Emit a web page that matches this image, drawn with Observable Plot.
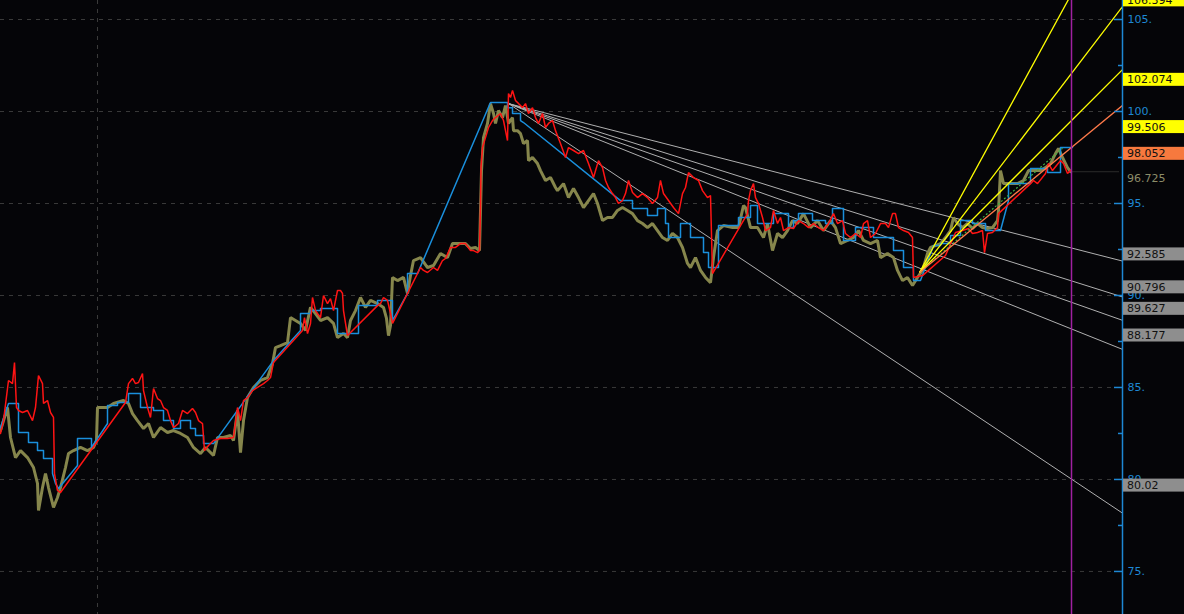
<!DOCTYPE html>
<html><head><meta charset="utf-8">
<script src="https://cdn.jsdelivr.net/npm/d3@7"></script>
<script src="https://cdn.jsdelivr.net/npm/@observablehq/plot@0.6"></script>
<style>html,body{margin:0;padding:0;background:#050508;overflow:hidden}#chart svg{display:block}</style>
</head><body><div id="chart"></div>
<script>
// price series: [time index, price]
const olive = [[0,82.66],[7,83.91],[10,82.28],[15,81.19],[20,81.57],[27,81.19],[33,80.65],[37,79.78],[38,78.31],[42,79.56],[45,80.32],[48,79.56],[53,78.48],[57,79.02],[60,79.56],[65,80.65],[68,81.41],[73,81.57],[80,81.74],[87,81.57],[93,81.74],[96,82.12],[97,83.91],[100,83.91],[107,83.91],[113,84.13],[123,84.29],[128,84.13],[132,83.58],[137,83.20],[143,82.77],[148,83.04],[153,82.28],[160,82.82],[167,82.55],[173,82.66],[180,82.50],[187,82.28],[193,81.74],[200,81.41],[205,81.74],[213,81.30],[217,82.28],[223,82.28],[230,82.39],[233,82.12],[237,83.75],[240,81.46],[243,83.20],[247,84.45],[253,85.00],[260,85.38],[267,85.54],[272,86.30],[275,87.17],[280,87.28],[287,87.44],[290,88.80],[295,88.64],[300,88.48],[305,88.10],[310,89.35],[315,89.02],[320,88.64],[327,88.80],[333,88.48],[337,87.71],[343,87.93],[347,87.71],[350,88.64],[355,89.18],[360,89.89],[365,89.35],[370,89.73],[377,89.56],[383,89.35],[386,88.75],[388,87.82],[390,88.37],[392,90.98],[397,90.81],[403,90.98],[407,90.11],[410,91.08],[413,91.90],[420,92.06],[427,91.52],[433,91.63],[440,92.28],[447,92.06],[452,92.82],[458,92.82],[465,92.82],[470,92.55],[475,92.61],[479,92.44],[481,96.79],[483,98.58],[487,99.35],[490,100.43],[493,99.89],[495,99.35],[498,100.05],[502,99.67],[505,100.32],[508,99.35],[512,99.67],[513,98.96],[517,98.96],[520,98.80],[523,98.26],[527,98.42],[528,97.33],[532,97.50],[537,97.17],[540,96.79],[545,96.25],[550,96.41],[555,95.87],[557,95.70],[563,96.08],[568,95.32],[573,95.81],[578,95.32],[583,94.78],[588,95.16],[593,95.54],[597,95.00],[602,94.07],[607,94.24],[612,94.24],[617,94.62],[622,94.78],[627,94.62],[632,94.45],[637,94.07],[642,93.91],[647,93.69],[652,93.91],[657,93.53],[662,93.15],[667,92.99],[672,93.37],[677,93.15],[682,92.61],[687,91.74],[690,91.52],[695,92.06],[700,91.36],[705,90.98],[710,90.70],[713,92.06],[717,93.53],[723,93.80],[732,93.69],[738,93.69],[743,94.89],[745,94.78],[750,93.69],[757,93.69],[763,93.15],[767,93.91],[772,92.44],[777,93.37],[782,93.15],[787,93.53],[792,94.07],[797,93.91],[803,94.45],[810,93.69],[817,94.07],[823,93.53],[830,94.07],[835,93.69],[840,92.82],[847,92.99],[853,93.15],[858,93.53],[863,92.99],[870,92.82],[877,92.99],[880,92.06],[887,92.28],[893,92.06],[897,91.36],[902,90.81],[907,90.98],[912,90.54],[917,90.98],[922,91.36],[927,92.28],[930,92.61],[935,92.71],[940,92.82],[945,93.15],[950,93.53],[953,94.24],[957,93.91],[962,93.69],[967,93.91],[972,93.64],[977,93.91],[982,93.69],[987,93.64],[992,93.69],[997,94.07],[998,94.62],[1000,96.79],[1003,96.08],[1010,96.08],[1017,96.08],[1023,96.25],[1028,96.79],[1033,96.79],[1040,96.79],[1045,96.95],[1050,97.17],[1055,97.71],[1058,97.99],[1062,97.50],[1067,96.95],[1070,96.73]];

const red = [[0,82.50],[3,83.20],[8,85.38],[12,85.21],[14,86.36],[16,83.91],[18,83.75],[22,83.64],[27,83.75],[32,83.20],[35,83.91],[38,85.65],[42,85.21],[43,84.13],[47,84.29],[50,83.64],[53,83.37],[54,80.32],[57,79.40],[60,79.29],[125,84.18],[128,85.21],[132,85.49],[135,85.21],[138,85.27],[142,85.76],[143,84.83],[147,83.91],[150,83.37],[153,84.94],[157,84.40],[160,84.29],[163,83.91],[167,83.75],[170,83.20],[173,82.82],[178,83.04],[182,83.75],[187,83.58],[192,83.86],[195,83.64],[198,83.20],[202,83.04],[204,81.57],[208,81.85],[213,82.12],[220,82.23],[227,82.23],[233,82.28],[237,83.91],[240,83.20],[243,84.29],[247,84.45],[252,84.83],[257,85.00],[263,85.21],[267,85.38],[270,85.54],[273,86.36],[302,88.10],[304,88.80],[307,87.93],[310,88.48],[312,89.89],[315,89.18],[317,89.02],[320,88.80],[323,90.00],[327,89.56],[330,89.83],[333,89.18],[337,90.27],[340,90.27],[342,90.11],[343,89.18],[347,87.82],[377,89.45],[380,89.56],[383,89.89],[387,89.73],[390,89.02],[392,88.48],[420,91.52],[423,91.36],[427,91.25],[433,91.52],[437,91.36],[442,91.90],[445,92.01],[450,92.61],[455,92.61],[460,92.82],[465,92.82],[470,92.44],[473,92.44],[477,92.33],[479,92.44],[480,94.78],[480.5,96.95],[482,98.04],[485,98.58],[488,99.13],[492,99.51],[495,99.67],[500,99.89],[503,99.51],[505,98.96],[507,98.42],[508,100.98],[510,100.76],[512,101.14],[515,100.60],[518,100.43],[522,100.21],[525,100.43],[528,99.89],[532,100.21],[535,99.67],[538,99.35],[542,99.89],[545,99.13],[548,99.35],[552,99.51],[555,98.96],[560,98.26],[565,97.50],[568,98.04],[573,97.88],[578,97.71],[583,97.88],[588,97.17],[593,96.41],[598,97.33],[602,96.95],[605,96.25],[608,95.87],[612,95.54],[615,95.32],[618,95.00],[622,95.16],[625,95.54],[628,96.25],[632,95.60],[637,95.32],[642,95.54],[647,95.32],[652,95.00],[657,95.32],[660,96.25],[663,95.54],[668,95.16],[673,94.78],[678,94.45],[682,95.54],[685,95.87],[688,96.68],[693,96.41],[698,96.25],[702,95.70],[707,95.32],[710,95.43],[712,91.19],[747,94.45],[748,95.16],[750,95.70],[753,96.08],[755,95.32],[758,95.00],[762,94.24],[765,93.53],[770,93.69],[773,94.62],[777,93.91],[780,94.24],[783,93.53],[788,93.69],[793,93.64],[798,94.07],[803,93.91],[808,93.69],[813,93.91],[818,93.69],[823,93.53],[828,93.91],[833,94.45],[837,93.91],[842,94.07],[845,93.37],[850,93.15],[855,93.37],[860,93.15],[863,93.91],[867,94.07],[870,93.15],[875,93.37],[880,93.91],[885,93.91],[888,93.69],[892,94.45],[895,94.45],[898,93.69],[903,93.53],[908,93.42],[912,93.15],[913,90.98],[922,91.08],[945,92.17],[955,93.42],[962,93.53],[968,93.64],[972,93.37],[977,93.42],[982,93.53],[984,92.33],[987,93.37],[992,93.42],[997,93.69],[998,94.45],[1030,96.08],[1033,96.25],[1037,96.08],[1045,96.63],[1048,97.17],[1052,96.79],[1056,97.06],[1060,97.33],[1063,97.17],[1067,96.63],[1070,96.79]];

const blue = [[0,82.82],[8,84.13],[18,84.13],[18,82.55],[28,82.55],[28,82.01],[37,82.01],[37,81.57],[43,81.57],[43,81.14],[52,81.14],[52,80.32],[55,79.78],[58,79.51],[77,80.76],[77,82.23],[91,82.23],[91,81.74],[107,83.04],[107,84.02],[117,84.02],[117,84.18],[128,84.18],[128,84.67],[140,84.67],[140,83.91],[153,83.91],[153,83.75],[163,83.75],[163,83.20],[173,83.20],[173,82.77],[180,82.77],[180,83.20],[190,83.20],[190,82.77],[195,82.77],[195,82.39],[203,82.39],[203,81.95],[213,81.95],[273,86.46],[300,88.10],[300,89.02],[310,89.02],[310,89.18],[320,89.18],[320,89.29],[337,89.29],[337,87.93],[358,87.93],[358,89.45],[377,89.45],[377,89.73],[392,89.73],[392,88.64],[407,90.11],[407,91.19],[417,91.19],[490,100.49],[507,100.49],[507,100.21],[512,100.21],[512,99.89],[520,99.89],[520,99.51],[523,99.40],[620,95.16],[632,95.16],[632,94.73],[647,94.73],[647,94.35],[657,94.35],[657,94.73],[665,94.73],[665,93.91],[668,93.91],[668,93.15],[680,93.15],[680,93.91],[690,93.91],[690,93.15],[703,93.15],[703,92.33],[708,92.33],[708,91.52],[718,91.52],[718,93.80],[738,93.80],[738,94.24],[750,94.24],[750,94.89],[757,94.89],[757,93.91],[773,93.91],[773,94.45],[788,94.45],[788,93.69],[793,93.69],[793,94.07],[798,94.07],[798,94.45],[812,94.45],[812,94.07],[825,94.07],[825,93.91],[832,93.91],[832,94.73],[843,94.73],[843,92.99],[855,92.99],[855,93.69],[873,93.69],[873,93.15],[893,93.15],[893,92.44],[903,92.44],[903,91.52],[913,91.52],[913,90.81],[920,90.81],[930,92.28],[933,92.71],[940,92.71],[940,92.82],[950,92.82],[950,93.26],[960,93.26],[960,94.07],[972,94.07],[972,93.91],[985,93.91],[985,93.53],[1000,93.53],[1008,95.16],[1008,96.08],[1030,96.08],[1030,96.90],[1047,96.90],[1047,96.68],[1060,96.68],[1060,98.04],[1072,98.04]];

const majorTicks = [75, 80, 85, 90, 95, 100, 105];
const minorTicks = [77.5, 82.5, 87.5, 92.5, 97.5, 102.5];
const yDomain = [72.66, 106.033];
const tDomain = [0, 1122];
const gridT = [97];
const cursorT = 1071;

const grayFanOrigin = [508, 100.43];
const grayFanEnds = [91.87, 89.92, 88.65, 87.07, 78.17];
const yellowFanOrigin = [919, 91.25];
const yellowFanEnds = [111.47, 105.70, 102.28];
const orangeEnd = 100.33;
const greenEnd = [1062, 98.0];
const lastClose = 96.725;

const labelValues = [106.394, 102.074, 99.506, 98.052, 96.725, 92.585, 90.796, 89.627, 88.177, 80.02];
const labelTexts = ["106.394", "102.074", "99.506", "98.052", "96.725", "92.585", "90.796", "89.627", "88.177", "80.02"];
const labelKinds = ["yellow", "yellow", "yellow", "orange", "plain", "gray", "gray", "gray", "gray", "gray"];

const kindFill = {yellow: "#ffff00", orange: "#f6793e", gray: "#8e8e8e", plain: "none"};
const kindText = {yellow: "#111", orange: "#111", gray: "#111", plain: "#8c8c68"};

const rows = a => a.map(([t, v]) => ({t, v}));
const fanRows = (o, ends, tEnd) => ends.map(e => ({t1: o[0], v1: o[1], t2: tEnd, v2: e}));
const tEnd = tDomain[1];

const W = 1184, H = 614, MR = 62;
const AX = "#1e88d4";

const chart = Plot.plot({
  width: W, height: H,
  marginLeft: 0, marginRight: MR, marginTop: 0, marginBottom: 0,
  style: {background: "#050508", fontFamily: "DejaVu Sans", fontSize: "11px"},
  x: {domain: tDomain, axis: null},
  y: {domain: yDomain, axis: null},
  marks: [
    Plot.ruleY(majorTicks, {stroke: "#3a3a3a", strokeDasharray: "4,5"}),
    Plot.ruleX(gridT, {stroke: "#3a3a3a", strokeDasharray: "4,5"}),
    Plot.link(fanRows(grayFanOrigin, grayFanEnds, tEnd), {x1: "t1", y1: "v1", x2: "t2", y2: "v2", stroke: "#b0b0b0", strokeWidth: 1, clip: true}),
    Plot.line(rows(olive), {x: "t", y: "v", stroke: "#86864c", strokeWidth: 3, strokeLinejoin: "miter"}),
    Plot.line(rows(blue), {x: "t", y: "v", stroke: "#1a8fdc", strokeWidth: 1.5}),
    Plot.line(rows(red), {x: "t", y: "v", stroke: "#ff1414", strokeWidth: 1.5, strokeLinejoin: "miter"}),
    Plot.link([{t1: yellowFanOrigin[0], v1: yellowFanOrigin[1], t2: greenEnd[0], v2: greenEnd[1]}], {x1: "t1", y1: "v1", x2: "t2", y2: "v2", stroke: "#3cb043", strokeWidth: 1.2, strokeDasharray: "2,2"}),
    Plot.link(fanRows(yellowFanOrigin, yellowFanEnds, tEnd), {x1: "t1", y1: "v1", x2: "t2", y2: "v2", stroke: "#ffff00", strokeWidth: 1.3, clip: true}),
    Plot.link(fanRows(yellowFanOrigin, [orangeEnd], tEnd), {x1: "t1", y1: "v1", x2: "t2", y2: "v2", stroke: "#ff7a4a", strokeWidth: 1.3, clip: true}),
    Plot.ruleY([lastClose], {x1: cursorT, x2: tEnd - 3, stroke: "#2c2c2c"}),
    Plot.ruleX([cursorT], {stroke: "#a020a0", strokeWidth: 1.5}),
    Plot.ruleX([tEnd], {stroke: AX, strokeWidth: 1.5}),
    Plot.ruleY(majorTicks, {stroke: AX, insetLeft: 1114, strokeWidth: 1.5}),
    Plot.ruleY(minorTicks, {stroke: AX, insetLeft: 1118, strokeWidth: 1.5}),
    Plot.axisY(majorTicks, {anchor: "right", tickSize: 0, tickPadding: 5, tickFormat: d => d + ".", fill: AX, fontSize: 11})
  ]
});

document.getElementById("chart").appendChild(chart);

// value tags at the right edge, positioned with the plot's own y scale
const ys = chart.scale("y");
const svg = d3.select(chart);
const g = svg.append("g").attr("font-family", "DejaVu Sans").attr("font-size", 11).attr("text-anchor", "start");
labelValues.forEach((v, i) => {
  const top = ys.apply(v);
  const k = labelKinds[i];
  if (k !== "plain") {
    g.append("rect").attr("x", W - MR + 1).attr("y", top).attr("width", MR - 1).attr("height", 13).attr("fill", kindFill[k]);
  }
  g.append("text").attr("x", W - MR + 5).attr("y", top + 10.5).attr("text-anchor", "start").attr("fill", kindText[k]).text(labelTexts[i]);
});
</script>
</body></html>
